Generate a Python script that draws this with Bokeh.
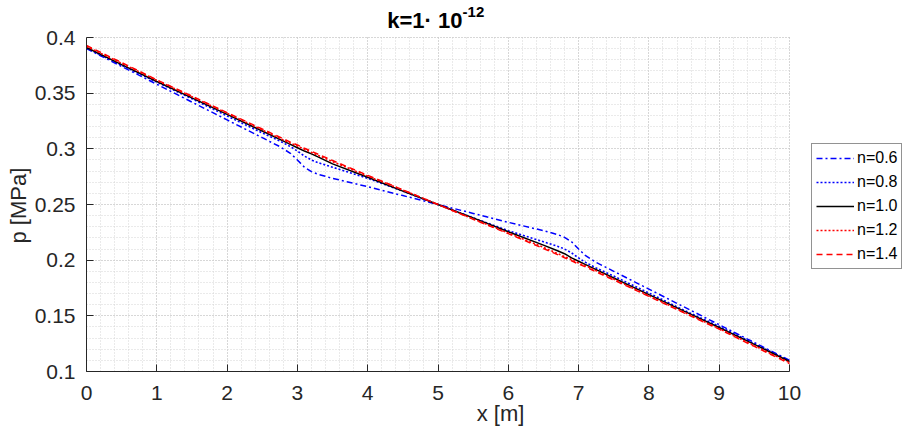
from bokeh.plotting import figure
from bokeh.models import (Legend, LegendItem, Label, FixedTicker, CustomJSTickFormatter,
                          Range1d, Title)
from bokeh.embed import file_html
from bokeh.resources import INLINE

# ---------------- data ----------------
x = [0.0, 0.5, 1.0, 1.5, 2.0, 2.5, 2.75, 2.9, 3.0, 3.1, 3.2, 3.3, 3.5, 4.0, 4.5, 5.0,
     5.5, 6.0, 6.5, 6.7, 6.8, 6.9, 7.0, 7.1, 7.25, 7.5, 8.0, 8.5, 9.0, 9.5, 10.0]

p_n06 = [0.390, 0.374, 0.358, 0.342, 0.326, 0.310, 0.302, 0.296, 0.290, 0.2835, 0.2795,
         0.277, 0.2735, 0.266, 0.258, 0.250, 0.242, 0.234, 0.2265, 0.223, 0.2205, 0.2165,
         0.210, 0.204, 0.198, 0.190, 0.174, 0.158, 0.142, 0.126, 0.110]
p_n08 = [0.3905, 0.375, 0.360, 0.345, 0.3295, 0.3143, 0.307, 0.302, 0.298, 0.2935, 0.290,
         0.2875, 0.2835, 0.2735, 0.262, 0.250, 0.238, 0.2265, 0.2165, 0.2125, 0.210, 0.2065,
         0.202, 0.198, 0.193, 0.1857, 0.1705, 0.155, 0.1405, 0.125, 0.1095]
p_n10 = [0.391, 0.3757, 0.3605, 0.3458, 0.331, 0.316, 0.3085, 0.304, 0.301, 0.298, 0.2955,
         0.2925, 0.2865, 0.2745, 0.262, 0.250, 0.238, 0.2255, 0.2135, 0.2085, 0.2058, 0.202,
         0.199, 0.196, 0.1915, 0.184, 0.169, 0.1542, 0.1395, 0.1243, 0.109]
p_n12 = [0.392, 0.3768, 0.3615, 0.3468, 0.332, 0.317, 0.3095, 0.305, 0.3025, 0.2995, 0.2968,
         0.294, 0.2885, 0.2755, 0.263, 0.250, 0.237, 0.2245, 0.2115, 0.206, 0.2032, 0.2005,
         0.1975, 0.195, 0.1905, 0.183, 0.168, 0.1532, 0.1385, 0.1232, 0.108]
p_n14 = [0.3928, 0.3775, 0.362, 0.3473, 0.3325, 0.3178, 0.3105, 0.306, 0.3035, 0.3005, 0.2978,
         0.295, 0.2895, 0.2762, 0.2632, 0.250, 0.2368, 0.2238, 0.2105, 0.205, 0.2022, 0.1995,
         0.1965, 0.194, 0.1895, 0.1822, 0.1675, 0.1527, 0.138, 0.1225, 0.1072]

labels = ["n=0.6", "n=0.8", "n=1.0", "n=1.2", "n=1.4"]
x_ticks = [0, 1, 2, 3, 4, 5, 6, 7, 8, 9, 10]
y_ticks = [0.1, 0.15, 0.2, 0.25, 0.3, 0.35, 0.4]
X_MIN, X_MAX = 0, 10
Y_MIN, Y_MAX = 0.1, 0.4

# ---------------- figure ----------------
FONT = "Liberation Sans"
TXT = "#262626"

# the frame spans the whole area right of / above the axes, so that the legend and
# the title (drawn inside it) are not clipped; the data region is 0..10 x 0.1..0.4
x_px_per_unit = 703 / (X_MAX - X_MIN)
y_px_per_unit = 334 / (Y_MAX - Y_MIN)
p = figure(width=914, height=439, output_backend="svg", toolbar_location=None,
           x_range=Range1d(X_MIN, X_MAX + 125 / x_px_per_unit),
           y_range=Range1d(Y_MIN, Y_MAX + 37 / y_px_per_unit),
           min_border_left=86, min_border_right=0, min_border_top=0,
           min_border_bottom=68)
p.outline_line_color = None
p.background_fill_color = "white"
p.border_fill_color = "white"

for ax in (p.xaxis[0], p.yaxis[0]):
    ax.axis_line_color = TXT
    ax.axis_line_width = 1
    ax.major_tick_line_color = TXT
    ax.major_tick_in = 7
    ax.major_tick_out = 0
    ax.minor_tick_line_color = None
    ax.major_label_text_font = FONT
    ax.major_label_text_font_size = "21px"
    ax.major_label_text_color = TXT
    ax.axis_label_text_font = FONT
    ax.axis_label_text_font_size = "22px"
    ax.axis_label_text_font_style = "normal"
    ax.axis_label_text_color = TXT

p.xaxis.bounds = (X_MIN, X_MAX)
p.yaxis.bounds = (Y_MIN, Y_MAX)
p.xaxis.ticker = FixedTicker(ticks=x_ticks, minor_ticks=[i * 0.2 for i in range(51)])
p.yaxis.ticker = FixedTicker(ticks=y_ticks, minor_ticks=[0.1 + i * 0.01 for i in range(31)])
p.yaxis.formatter = CustomJSTickFormatter(code="return String(Math.round(tick*100)/100);")
p.xaxis.axis_label = "x [m]"
p.xaxis.major_label_standoff = 10
p.yaxis.major_label_standoff = 7
p.xaxis.axis_label_standoff = -2

# y-axis label as a side title, so it can be centred on the data region (0.1..0.4)
ylab = Title(text="p [MPa]", align="left", offset=128, standoff=1,
             text_font=FONT, text_font_size="22px", text_font_style="normal",
             text_color=TXT)
p.add_layout(ylab, "left")

for g in (p.xgrid[0], p.ygrid[0]):
    g.grid_line_color = "#c4c4c4"
    g.grid_line_dash = "1 2"
    g.grid_line_width = 1
    g.minor_grid_line_color = "#d4d4d4"
    g.minor_grid_line_dash = "1 2"
    g.minor_grid_line_width = 1

# white covers that hide the grid outside the data region (title / legend area)
p.quad(left=[X_MAX + 0.012, X_MIN - 1], right=[X_MAX + 3, X_MAX + 3],
       bottom=[Y_MIN - 1, Y_MAX + 0.0012], top=[Y_MAX + 1, Y_MAX + 1],
       fill_color="white", line_color=None)

r06 = p.line(x, p_n06, line_color="#0000ff", line_width=1.5, line_dash="6 3 2 3")
r08 = p.line(x, p_n08, line_color="#0000ff", line_width=1.6, line_dash="2 2")
r10 = p.line(x, p_n10, line_color="#000000", line_width=1.5)
r12 = p.line(x, p_n12, line_color="#ff0000", line_width=1.6, line_dash="2 2")
r14 = p.line(x, p_n14, line_color="#ff0000", line_width=1.5, line_dash="6 4")

legend = Legend(items=[LegendItem(label=l, renderers=[r]) for l, r in
                       zip(labels, [r06, r08, r10, r12, r14])],
                location=(725, 102))
legend.label_text_font = FONT
legend.label_text_font_size = "16px"
legend.label_text_color = "#000000"
legend.glyph_width = 38
legend.glyph_height = 20
legend.label_height = 20
legend.spacing = 4
legend.padding = 4
legend.margin = 0
legend.label_standoff = 3
legend.border_line_color = TXT
legend.border_line_width = 1
legend.background_fill_alpha = 1
p.add_layout(legend, "center")

title_main = Label(x=5.348, y=0.4153, text="k=1\u00b7 10", text_align="right",
                   text_baseline="alphabetic", text_font=FONT, text_font_size="22px",
                   text_font_style="bold", text_color="#000000")
title_sup = Label(x=5.35, y=0.4227, text="-12", text_align="left",
                  text_baseline="alphabetic", text_font=FONT, text_font_size="15px",
                  text_font_style="bold", text_color="#000000")
p.add_layout(title_main)
p.add_layout(title_sup)

open("out.html", "w").write(file_html(p, INLINE))
